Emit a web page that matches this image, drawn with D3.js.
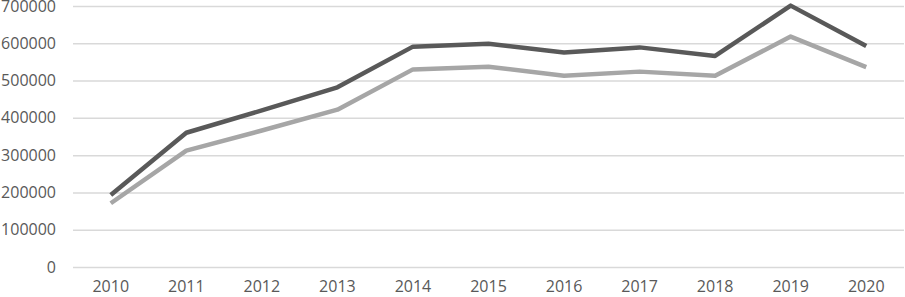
<!DOCTYPE html>
<html>
<head>
<meta charset="utf-8">
<script src="https://cdn.jsdelivr.net/npm/d3@7"></script>
<style>
  body { margin: 0; background: #fff; }
  #chart text { font-family: "Open Sans", "Liberation Sans", sans-serif; }
</style>
</head>
<body>
<div id="chart"></div>
<script>
var years = ["2010", "2011", "2012", "2013", "2014", "2015", "2016", "2017", "2018", "2019", "2020"];
var darkSeries = [193000, 360000, 420000, 482000, 591000, 599000, 575000, 589000, 566000, 701000, 593000];
var lightSeries = [171000, 312000, 366000, 422000, 530000, 537000, 513000, 524000, 513000, 618000, 536000];
var yTicks = [0, 100000, 200000, 300000, 400000, 500000, 600000, 700000];

var w = 905;
var h = 297;

var svg = d3.select("#chart")
  .append("svg")
  .attr("width", w)
  .attr("height", h);

var margin = { top: 6, right: 1, bottom: 30, left: 73 };

// band scale so each year sits in the middle of its slot
var xScale = d3.scaleBand()
  .domain(years)
  .range([margin.left, w - margin.right]);

var yScale = d3.scaleLinear()
  .domain([0, 700000])
  .range([h - margin.bottom, margin.top]);

// gridlines + y labels
var yAxis = d3.axisLeft(yScale)
  .tickValues(yTicks)
  .tickSize(-(w - margin.left - margin.right))
  .tickPadding(17)
  .tickFormat(d => d);

var gy = svg.append("g")
  .attr("transform", "translate(" + margin.left + ",0)")
  .call(yAxis);
gy.select(".domain").remove();
gy.selectAll(".tick line")
  .attr("stroke", "#d9d9d9")
  .attr("stroke-width", 1.5);
gy.selectAll(".tick text")
  .attr("fill", "#595959")
  .attr("font-size", "16px");

// x labels
var xAxis = d3.axisBottom(xScale).tickSize(0).tickPadding(14);
var gx = svg.append("g")
  .attr("transform", "translate(0," + (h - margin.bottom) + ")")
  .call(xAxis);
gx.select(".domain").remove();
gx.selectAll(".tick text")
  .attr("fill", "#595959")
  .attr("font-size", "16px");

var line = d3.line()
  .x((d, i) => xScale(years[i]) + xScale.bandwidth() / 2)
  .y(d => yScale(d));

svg.append("path")
  .datum(lightSeries)
  .attr("fill", "none")
  .attr("stroke", "#a6a6a6")
  .attr("stroke-width", 4.5)
  .attr("stroke-linejoin", "round")
  .attr("d", line);

svg.append("path")
  .datum(darkSeries)
  .attr("fill", "none")
  .attr("stroke", "#595959")
  .attr("stroke-width", 4.5)
  .attr("stroke-linejoin", "round")
  .attr("d", line);
</script>
</body>
</html>
